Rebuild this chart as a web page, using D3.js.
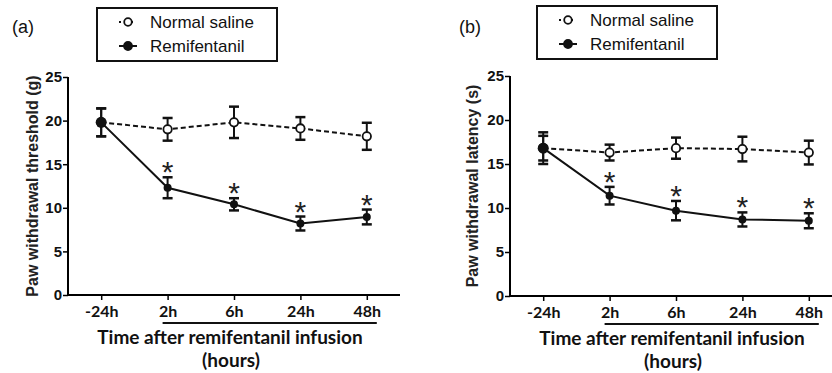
<!DOCTYPE html>
<html>
<head>
<meta charset="utf-8">
<script src="https://cdn.jsdelivr.net/npm/d3@7"></script>
<style>
  body { margin: 0; background: #fff; }
  svg { display: block; }
</style>
</head>
<body>
<svg width="832" height="373"></svg>
<script>
// time points
const timePoints = ['-24h', '2h', '6h', '24h', '48h'];
const yTicks = [0, 5, 10, 15, 20, 25];

// panel (a) paw withdrawal threshold (g)
const salineA = [19.8, 19.0, 19.8, 19.1, 18.2];
const salineA_sem = [1.6, 1.3, 1.8, 1.3, 1.55];
const remiA = [19.8, 12.3, 10.4, 8.2, 8.95];
const remiA_sem = [1.6, 1.2, 0.7, 0.8, 0.85];

// panel (b) paw withdrawal latency (s)
const salineB = [16.8, 16.3, 16.8, 16.7, 16.3];
const salineB_sem = [1.8, 0.9, 1.2, 1.4, 1.35];
const remiB = [16.8, 11.4, 9.7, 8.7, 8.55];
const remiB_sem = [1.4, 1.0, 1.1, 0.8, 0.85];

// which time points carry a significance star
const starred = [false, true, true, true, true];

const svg = d3.select('svg');

function drawPanel(cfg) {
  const g = svg.append('g');

  const x = d3.scalePoint()
    .domain(timePoints)
    .range([cfg.x0, cfg.x1])
    .padding(0.5);

  const y = d3.scaleLinear()
    .domain([0, 25])
    .range([cfg.yBot, cfg.yTop]);

  // y axis
  const yAxis = g.append('g')
    .attr('transform', `translate(${cfg.x0},0)`)
    .call(d3.axisLeft(y).tickValues(yTicks).tickSize(5).tickPadding(1));
  yAxis.select('.domain').attr('stroke-width', 2).attr('d', `M0,${cfg.yTop}V${cfg.yBot}`);
  yAxis.selectAll('.tick line').attr('stroke-width', 1.5);
  yAxis.selectAll('.tick text')
    .attr('font-family', 'Liberation Sans, Arial, sans-serif')
    .attr('font-weight', 'bold')
    .attr('font-size', 15)
    .attr('fill', '#111');

  // x axis
  const xAxis = g.append('g')
    .attr('transform', `translate(0,${cfg.yBot})`)
    .call(d3.axisBottom(x).tickSize(5).tickPadding(6));
  xAxis.select('.domain').attr('stroke-width', 2).attr('d', `M${cfg.x0},0H${cfg.x1}`);
  xAxis.selectAll('.tick line').attr('stroke-width', 1.5);
  xAxis.selectAll('.tick text')
    .attr('font-family', 'Lato, sans-serif')
    .attr('font-weight', 'bold')
    .attr('font-size', 16)
    .attr('fill', '#111');

  // bar under infusion period
  g.append('line')
    .attr('x1', x('2h') - 5).attr('x2', x('48h') + 10)
    .attr('y1', cfg.yBot + 28).attr('y2', cfg.yBot + 28)
    .attr('stroke', '#111').attr('stroke-width', 2);

  const cx = (x('-24h') + x('48h')) / 2 - 4;
  g.append('text')
    .attr('x', cx).attr('y', cfg.yBot + 49)
    .attr('text-anchor', 'middle')
    .attr('font-family', 'Lato, sans-serif').attr('font-weight', 'bold').attr('font-size', 19)
    .attr('fill', '#111')
    .text('Time after remifentanil infusion');
  g.append('text')
    .attr('x', cx + 1).attr('y', cfg.yBot + 72)
    .attr('text-anchor', 'middle')
    .attr('font-family', 'Lato, sans-serif').attr('font-weight', 'bold').attr('font-size', 19)
    .attr('fill', '#111')
    .text('(hours)');

  // y label
  g.append('text')
    .attr('transform', `translate(${cfg.labelX},${(cfg.yTop + cfg.yBot) / 2}) rotate(-90)`)
    .attr('text-anchor', 'middle')
    .attr('font-family', 'Liberation Sans, Arial, sans-serif')
    .attr('font-weight', 'bold').attr('font-size', 16)
    .attr('fill', '#222')
    .text(cfg.yLabel);

  const line = d3.line().x((d, i) => x(timePoints[i])).y(d => y(d));

  function errorBars(vals, sems) {
    const eb = g.append('g').attr('stroke', '#111').attr('stroke-width', 2);
    vals.forEach((v, i) => {
      const px = x(timePoints[i]);
      eb.append('line').attr('x1', px).attr('x2', px)
        .attr('y1', y(v + sems[i])).attr('y2', y(v - sems[i]));
      [v + sems[i], v - sems[i]].forEach(e => {
        eb.append('line').attr('x1', px - 5).attr('x2', px + 5)
          .attr('y1', y(e)).attr('y2', y(e)).attr('stroke-width', 2.5);
      });
    });
  }

  // saline
  errorBars(cfg.saline, cfg.salineSem);
  g.append('path').datum(cfg.saline)
    .attr('d', line).attr('fill', 'none')
    .attr('stroke', '#111').attr('stroke-width', 2).attr('stroke-dasharray', '5,3');

  // remifentanil
  errorBars(cfg.remi, cfg.remiSem);
  g.append('path').datum(cfg.remi)
    .attr('d', line).attr('fill', 'none')
    .attr('stroke', '#111').attr('stroke-width', 2);

  g.selectAll('.open').data(cfg.saline).enter().append('circle')
    .attr('cx', (d, i) => x(timePoints[i])).attr('cy', d => y(d))
    .attr('r', 4.2).attr('fill', '#fff').attr('stroke', '#111').attr('stroke-width', 1.8);

  g.selectAll('.filled').data(cfg.remi).enter().append('circle')
    .attr('cx', (d, i) => x(timePoints[i])).attr('cy', d => y(d))
    .attr('r', (d, i) => i === 0 ? 5.5 : 4).attr('fill', '#111');

  // stars
  cfg.remi.forEach((v, i) => {
    if (!starred[i]) return;
    g.append('text')
      .attr('x', x(timePoints[i])).attr('y', y(v + cfg.remiSem[i]) + 5)
      .attr('text-anchor', 'middle')
      .attr('font-family', 'Liberation Sans, Arial, sans-serif')
      .attr('font-size', 30).attr('fill', '#222')
      .text('*');
  });

  // panel letter
  svg.append('text')
    .attr('x', cfg.letterX).attr('y', 33)
    .attr('font-family', 'Liberation Sans, Arial, sans-serif').attr('font-size', 18)
    .attr('fill', '#111')
    .text(cfg.letter);

  // legend
  const lg = svg.append('g').attr('transform', `translate(${cfg.legX},${cfg.legY})`);
  lg.append('rect').attr('x', 0).attr('y', 0).attr('width', 180).attr('height', 53)
    .attr('fill', 'none').attr('stroke', '#111').attr('stroke-width', 2);
  const items = [
    { name: 'Normal saline', open: true, yy: 14 },
    { name: 'Remifentanil', open: false, yy: 38 }
  ];
  items.forEach(it => {
    lg.append('line').attr('x1', 22).attr('x2', 40).attr('y1', it.yy).attr('y2', it.yy)
      .attr('stroke', '#111').attr('stroke-width', 2)
      .attr('stroke-dasharray', it.open ? '2,4' : null);
    lg.append('circle').attr('cx', 31).attr('cy', it.yy).attr('r', it.open ? 3.8 : 4)
      .attr('fill', it.open ? '#fff' : '#111').attr('stroke', '#111').attr('stroke-width', 1.8);
    lg.append('text').attr('x', 53).attr('y', it.yy + 6)
      .attr('font-family', 'Liberation Sans, Arial, sans-serif').attr('font-size', 17)
      .attr('fill', '#111')
      .text(it.name);
  });
}

drawPanel({
  x0: 68, x1: 400, yTop: 77, yBot: 295,
  labelX: 38, yLabel: 'Paw withdrawal threshold (g)',
  saline: salineA, salineSem: salineA_sem,
  remi: remiA, remiSem: remiA_sem,
  letter: '(a)', letterX: 12, legX: 97, legY: 8
});

drawPanel({
  x0: 510, x1: 842, yTop: 76, yBot: 296,
  labelX: 478, yLabel: 'Paw withdrawal latency (s)',
  saline: salineB, salineSem: salineB_sem,
  remi: remiB, remiSem: remiB_sem,
  letter: '(b)', letterX: 459, legX: 537, legY: 6
});
</script>
</body>
</html>
